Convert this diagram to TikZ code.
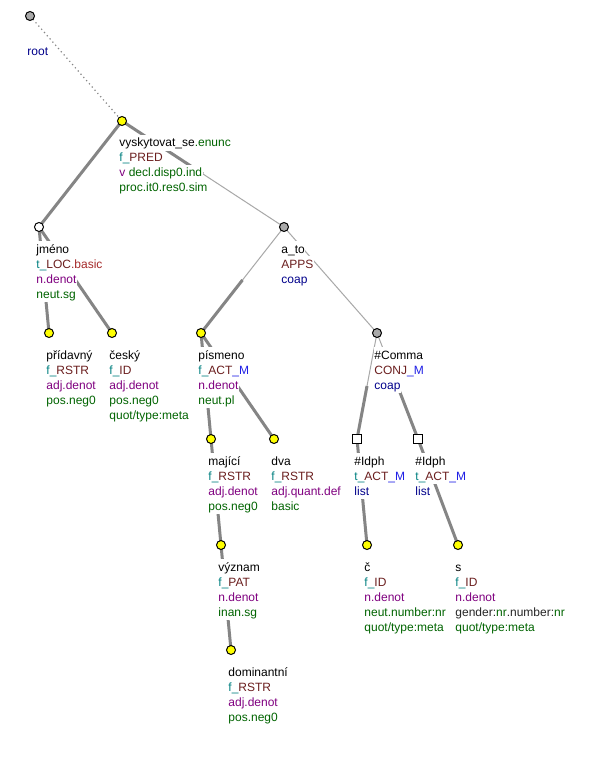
\documentclass[tikz,border=0pt]{standalone}
\usepackage{fontspec}
\setmainfont{Liberation Sans}
\usetikzlibrary{calc,backgrounds}
\definecolor{tfa}{HTML}{008080}
\definecolor{fun}{HTML}{6B1E1E}
\definecolor{memb}{HTML}{1E1EE6}
\definecolor{dblue}{HTML}{00008B}
\definecolor{purp}{HTML}{800080}
\definecolor{dgreen}{HTML}{006400}
\definecolor{brownred}{HTML}{A52A2A}
\definecolor{edgegray}{HTML}{858585}
\definecolor{thingray}{HTML}{A8A8A8}
\definecolor{nodegray}{HTML}{A9A9A9}
\definecolor{nodeyellow}{HTML}{FFFF00}
\newcommand\ctfa[1]{\textcolor{tfa}{#1}}
\newcommand\cfun[1]{\textcolor{fun}{#1}}
\newcommand\cmem[1]{\textcolor{memb}{#1}}
\newcommand\cdb[1]{\textcolor{dblue}{#1}}
\newcommand\cpu[1]{\textcolor{purp}{#1}}
\newcommand\cgr[1]{\textcolor{dgreen}{#1}}
\newcommand\cbr[1]{\textcolor{brownred}{#1}}
\newcommand\cbk[1]{\textcolor{black!85}{#1}}
\newcommand\tlabels[2]{%
  \foreach \r [count=\i from 0] in {#2} {
    \node[lbl] (#1-l\i) at ($(#1)+(-3.5,26+15*\i)$) {\r};
  }}
\newcommand\tedge[4]{%
  \draw[#3] (#1.center) -- ($(#1)!0.5!(#2)$);
  \draw[#4] ($(#1)!0.5!(#2)$) -- (#2.center);}
\begin{document}
\begin{tikzpicture}[x=0.75pt,y=-0.75pt,
  lbl/.style={anchor=base west, fill=white, inner xsep=0.5pt, inner ysep=0.5pt, text height=8.2pt, text depth=2.6pt, font=\fontsize{9}{11}\selectfont, text=black},
  tnode/.style={circle, draw=black, line width=0.75pt, minimum size=6.75pt, inner sep=0pt},
  yel/.style={tnode, fill=nodeyellow},
  grey/.style={tnode, fill=nodegray},
  wht/.style={tnode, fill=white},
  sq/.style={rectangle, draw=black, fill=white, line width=0.75pt, minimum size=6.5pt, inner sep=0pt},
  thk/.style={draw=edgegray, line width=2.25pt},
  thn/.style={draw=thingray, line width=0.75pt},
  dots/.style={draw=edgegray, line width=0.9pt, dash pattern=on 0.9pt off 2.3pt}]
\useasboundingbox (0,0) rectangle (590,759);

% tree nodes
\node[grey] (root) at (30,16) {};
\node[yel] (v) at (122,121) {};
\node[wht] (jm) at (39,227) {};
\node[grey] (ato) at (284,227) {};
\node[yel] (prid) at (49,333) {};
\node[yel] (cesky) at (112,333) {};
\node[yel] (pism) at (201,333) {};
\node[grey] (comma) at (377,333) {};
\node[yel] (maj) at (211,439) {};
\node[yel] (dva) at (274,439) {};
\node[sq] (id1) at (357,439) {};
\node[sq] (id2) at (418,439) {};
\node[yel] (vyz) at (221,545) {};
\node[yel] (c) at (367,545) {};
\node[yel] (s) at (458,545) {};
\node[yel] (dom) at (231,650) {};

% edges
\begin{scope}[on background layer]
  \fill[white] (0,0) rectangle (590,759);
  \draw[dots] (root.center) -- (v.center);
  \tedge{v}{jm}{thk}{thk}
  \tedge{v}{ato}{thk}{thn}
  \tedge{jm}{prid}{thk}{thk}
  \tedge{jm}{cesky}{thk}{thk}
  \tedge{ato}{pism}{thn}{thk}
  \tedge{ato}{comma}{thn}{thn}
  \tedge{pism}{maj}{thk}{thk}
  \tedge{pism}{dva}{thk}{thk}
  \tedge{comma}{id1}{thn}{thk}
  \tedge{comma}{id2}{thn}{thk}
  \tedge{maj}{vyz}{thk}{thk}
  \tedge{vyz}{dom}{thk}{thk}
  \tedge{id1}{c}{thk}{thk}
  \tedge{id2}{s}{thk}{thk}
\end{scope}

% labels
\node[lbl, text=dblue] (root-l0) at (26.5,56) {root};
\tlabels{v}{{vyskytovat\_se\cgr{.enunc}}, {\ctfa{f\_}\cfun{PRED}}, {\cpu{v} \cgr{decl.disp0.ind}}, {\cgr{proc.it0.res0.sim}}}
\tlabels{jm}{{jméno}, {\ctfa{t\_}\cfun{LOC}\cbr{.basic}}, {\cpu{n.denot}}, {\cgr{neut.sg}}}
\tlabels{ato}{{a\_to}, {\cfun{APPS}}, {\cdb{coap}}}
\tlabels{prid}{{přídavný}, {\ctfa{f\_}\cfun{RSTR}}, {\cpu{adj.denot}}, {\cgr{pos.neg0}}}
\tlabels{cesky}{{český}, {\ctfa{f\_}\cfun{ID}}, {\cpu{adj.denot}}, {\cgr{pos.neg0}}, {\cgr{quot/type:meta}}}
\tlabels{pism}{{písmeno}, {\ctfa{f\_}\cfun{ACT}\cmem{\_M}}, {\cpu{n.denot}}, {\cgr{neut.pl}}}
\tlabels{comma}{{\#Comma}, {\cfun{CONJ}\cmem{\_M}}, {\cdb{coap}}}
\tlabels{maj}{{mající}, {\ctfa{f\_}\cfun{RSTR}}, {\cpu{adj.denot}}, {\cgr{pos.neg0}}}
\tlabels{dva}{{dva}, {\ctfa{f\_}\cfun{RSTR}}, {\cpu{adj.quant.def}}, {\cgr{basic}}}
\tlabels{id1}{{\#Idph}, {\ctfa{t\_}\cfun{ACT}\cmem{\_M}}, {\cdb{list}}}
\tlabels{id2}{{\#Idph}, {\ctfa{t\_}\cfun{ACT}\cmem{\_M}}, {\cdb{list}}}
\tlabels{vyz}{{význam}, {\ctfa{f\_}\cfun{PAT}}, {\cpu{n.denot}}, {\cgr{inan.sg}}}
\tlabels{c}{{č}, {\ctfa{f\_}\cfun{ID}}, {\cpu{n.denot}}, {\cgr{neut.number:nr}}, {\cgr{quot/type:meta}}}
\tlabels{s}{{s}, {\ctfa{f\_}\cfun{ID}}, {\cpu{n.denot}}, {\cbk{gender:}\cgr{nr}\cbk{.number:}\cgr{nr}}, {\cgr{quot/type:meta}}}
\tlabels{dom}{{dominantní}, {\ctfa{f\_}\cfun{RSTR}}, {\cpu{adj.denot}}, {\cgr{pos.neg0}}}
\end{tikzpicture}
\end{document}
